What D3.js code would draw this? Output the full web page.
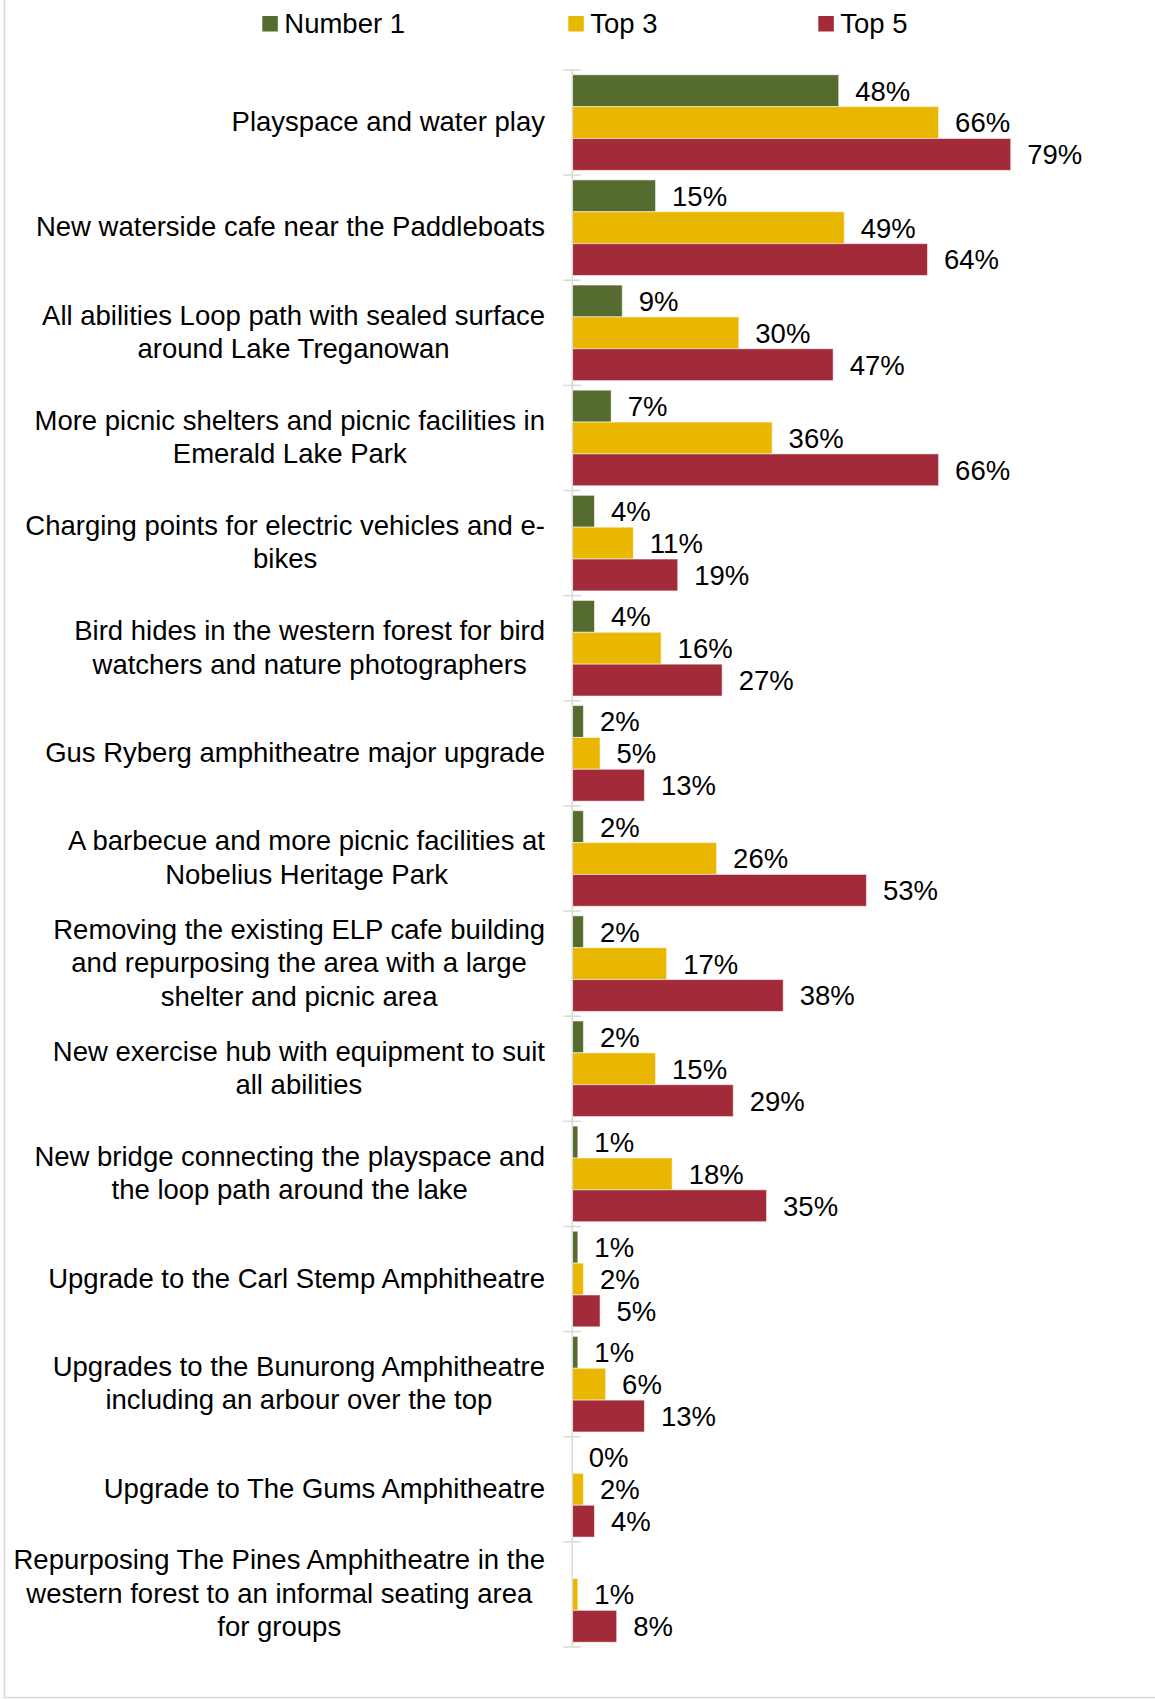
<!DOCTYPE html>
<html>
<head>
<meta charset="utf-8">
<script src="https://cdn.jsdelivr.net/npm/d3@7"></script>
<style>
  html, body { margin: 0; padding: 0; background: #fff; }
  svg { display: block; }
  text { font-family: "Liberation Sans", Arial, sans-serif; fill: #000; }
</style>
</head>
<body>
<svg id="chart" width="1155" height="1699"></svg>
<script>
const categories = [
  "Playspace and water play",
  "New waterside cafe near the Paddleboats",
  "All abilities Loop path with sealed surface\naround Lake Treganowan",
  "More picnic shelters and picnic facilities in\nEmerald Lake Park",
  "Charging points for electric vehicles and e-\nbikes",
  "Bird hides in the western forest for bird\nwatchers and nature photographers",
  "Gus Ryberg amphitheatre major upgrade",
  "A barbecue and more picnic facilities at\nNobelius Heritage Park",
  "Removing the existing ELP cafe building\nand repurposing the area with a large\nshelter and picnic area",
  "New exercise hub with equipment to suit\nall abilities",
  "New bridge connecting the playspace and\nthe loop path around the lake",
  "Upgrade to the Carl Stemp Amphitheatre",
  "Upgrades to the Bunurong Amphitheatre\nincluding an arbour over the top",
  "Upgrade to The Gums Amphitheatre",
  "Repurposing The Pines Amphitheatre in the\nwestern forest to an informal seating area\nfor groups"
];
const seriesNames = ["Number 1", "Top 3", "Top 5"];
const number1 = [48, 15, 9, 7, 4, 4, 2, 2, 2, 2, 1, 1, 1, 0, null];
const top3    = [66, 49, 30, 36, 11, 16, 5, 26, 17, 15, 18, 2, 6, 2, 1];
const top5    = [79, 64, 47, 66, 19, 27, 13, 53, 38, 29, 35, 5, 13, 4, 8];
const seriesColors = ["#556B2F", "#EAB700", "#A32A38"];

const seriesValues = [number1, top3, top5];
const FONT = 27.5;

const svg = d3.select("#chart");

// frame
svg.append("rect")
  .attr("x", 4.5).attr("y", -10)
  .attr("width", 1200).attr("height", 1707.5)
  .attr("fill", "none").attr("stroke", "#d9d9d9").attr("stroke-width", 1.5);

const x = d3.scaleLinear().domain([0, 100]).range([572.3, 1127.3]);
const y0 = d3.scaleBand().domain(d3.range(categories.length)).range([70, 1647]).padding(0);
const y1 = d3.scaleBand().domain(d3.range(seriesNames.length))
  .range([0, y0.bandwidth()]).paddingInner(0).paddingOuter(0.15);

// bars
const groups = svg.append("g").selectAll("g")
  .data(categories.map((c, i) => i))
  .join("g")
  .attr("transform", i => `translate(0,${y0(i)})`);

groups.selectAll("rect")
  .data(i => seriesValues.map((vals, s) => ({ s, v: vals[i] })))
  .join("rect")
  .filter(d => d.v !== null)
  .attr("x", x(0))
  .attr("y", d => y1(d.s))
  .attr("width", d => x(d.v) - x(0))
  .attr("height", y1.bandwidth())
  .attr("fill", d => seriesColors[d.s])
  .attr("stroke", d => d.v > 0 ? "rgba(255,255,255,0.55)" : "none")
  .attr("stroke-width", 1);

groups.selectAll("text.val")
  .data(i => seriesValues.map((vals, s) => ({ s, v: vals[i] })).filter(d => d.v !== null))
  .join("text")
  .attr("class", "val")
  .attr("x", d => x(d.v) + 16.5)
  .attr("y", d => y1(d.s) + y1.bandwidth() / 2)
  .attr("dy", "0.36em")
  .style("font-size", FONT + "px")
  .text(d => d.v + "%");

// axis line + cross ticks
const axis = svg.append("g");
axis.append("line")
  .attr("x1", x(0)).attr("x2", x(0))
  .attr("y1", y0.range()[0]).attr("y2", y0.range()[1])
  .attr("stroke", "#d9d9d9").attr("stroke-width", 1.5);
const tickPos = categories.map((c, i) => y0(i)).concat([y0.range()[1]]);
axis.selectAll("line.tick")
  .data(tickPos)
  .join("line")
  .attr("class", "tick")
  .attr("x1", x(0) - 9).attr("x2", x(0) + 8.5)
  .attr("y1", d => d).attr("y2", d => d)
  .attr("stroke", "#d9d9d9").attr("stroke-width", 1.5);

// category labels: block right-aligned, lines centered within block
const labelRight = 545;
const lineH = 33.5;
categories.forEach((c, i) => {
  const lines = c.split("\n");
  const t = svg.append("text").style("font-size", FONT + "px").attr("text-anchor", "middle");
  const tsp = lines.map(l => t.append("tspan").text(l));
  const maxW = d3.max(tsp, s => s.node().getComputedTextLength());
  const cx = labelRight - maxW / 2;
  const cy = y0(i) + y0.bandwidth() / 2;
  tsp.forEach((s, k) => {
    s.attr("x", cx).attr("y", cy + (k - (lines.length - 1) / 2) * lineH).attr("dy", "0.31em");
  });
});

// legend
const legendX = [262.3, 568.3, 818.3];
const legend = svg.append("g").selectAll("g")
  .data(seriesNames)
  .join("g")
  .attr("transform", (d, i) => `translate(${legendX[i]},0)`);
legend.append("rect")
  .attr("x", 0).attr("y", 16)
  .attr("width", 15.5).attr("height", 15.5)
  .attr("fill", (d, i) => seriesColors[i]);
legend.append("text")
  .attr("x", 22).attr("y", 32.7)
  .style("font-size", FONT + "px")
  .text(d => d);
</script>
</body>
</html>
